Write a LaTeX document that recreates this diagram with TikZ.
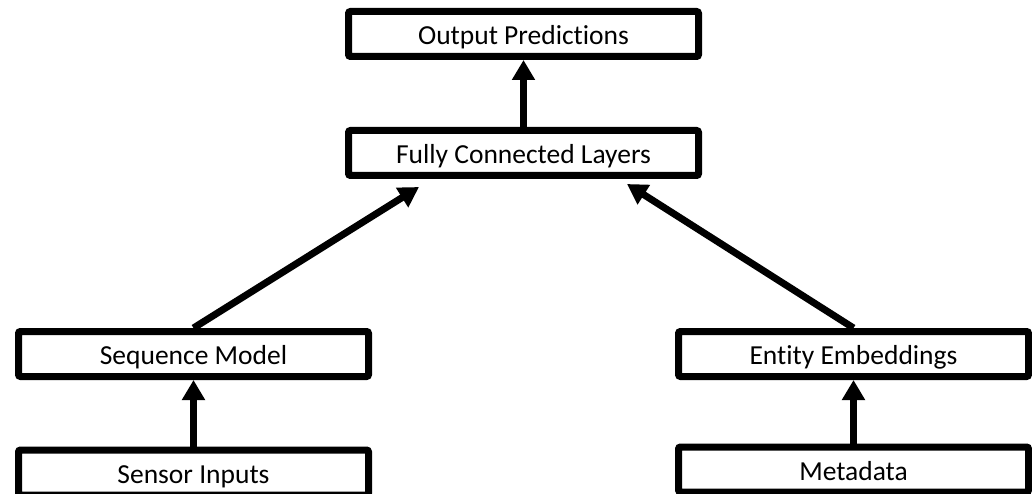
\documentclass[tikz,border=0pt]{standalone}
\usepackage{fontspec}
\setmainfont[Ligatures=NoCommon]{Carlito}
\usetikzlibrary{arrows.meta,calc}
\begin{document}
\begin{tikzpicture}[x=1pt,y=-1pt,
  block/.style={draw=black,line width=7pt,rounded corners=2pt,fill=white,
    minimum width=350pt,minimum height=45pt,inner sep=0pt,
    text height=21pt,text depth=0pt,
    font=\fontsize{27.5}{32}\selectfont},
  link/.style={line width=7pt,-{Triangle[length=20pt,width=22pt]}}]
  \useasboundingbox (0,0) rectangle (1032,494);
  \clip (0,0) rectangle (1032,494);
  % boxes
  \node[block] (out) at (523.5,34) {Output Predictions};
  \node[block] (fc)  at (523.5,153) {Fully Connected Layers};
  \node[block] (seq) at (193.5,354) {Sequence Model};
  \node[block] (ent) at (853.5,354) {Entity Embeddings};
  \node[block] (sen) at (193.5,472.5) {Sensor Inputs};
  \node[block] (met) at (853.5,469.5) {Metadata};
  % arrow targets below the fully connected block
  \coordinate (fcL) at ($(fc.south west)+(74,8)$);
  \coordinate (fcR) at ($(fc.south west)+(282,5)$);
  % connectors
  \draw[link] (fc.north) -- (out.south);
  \draw[link] (sen.north) -- (seq.south);
  \draw[link] (met.north) -- (ent.south);
  \draw[link] (seq.north) -- (fcL);
  \draw[link] (ent.north) -- (fcR);
\end{tikzpicture}
\end{document}
